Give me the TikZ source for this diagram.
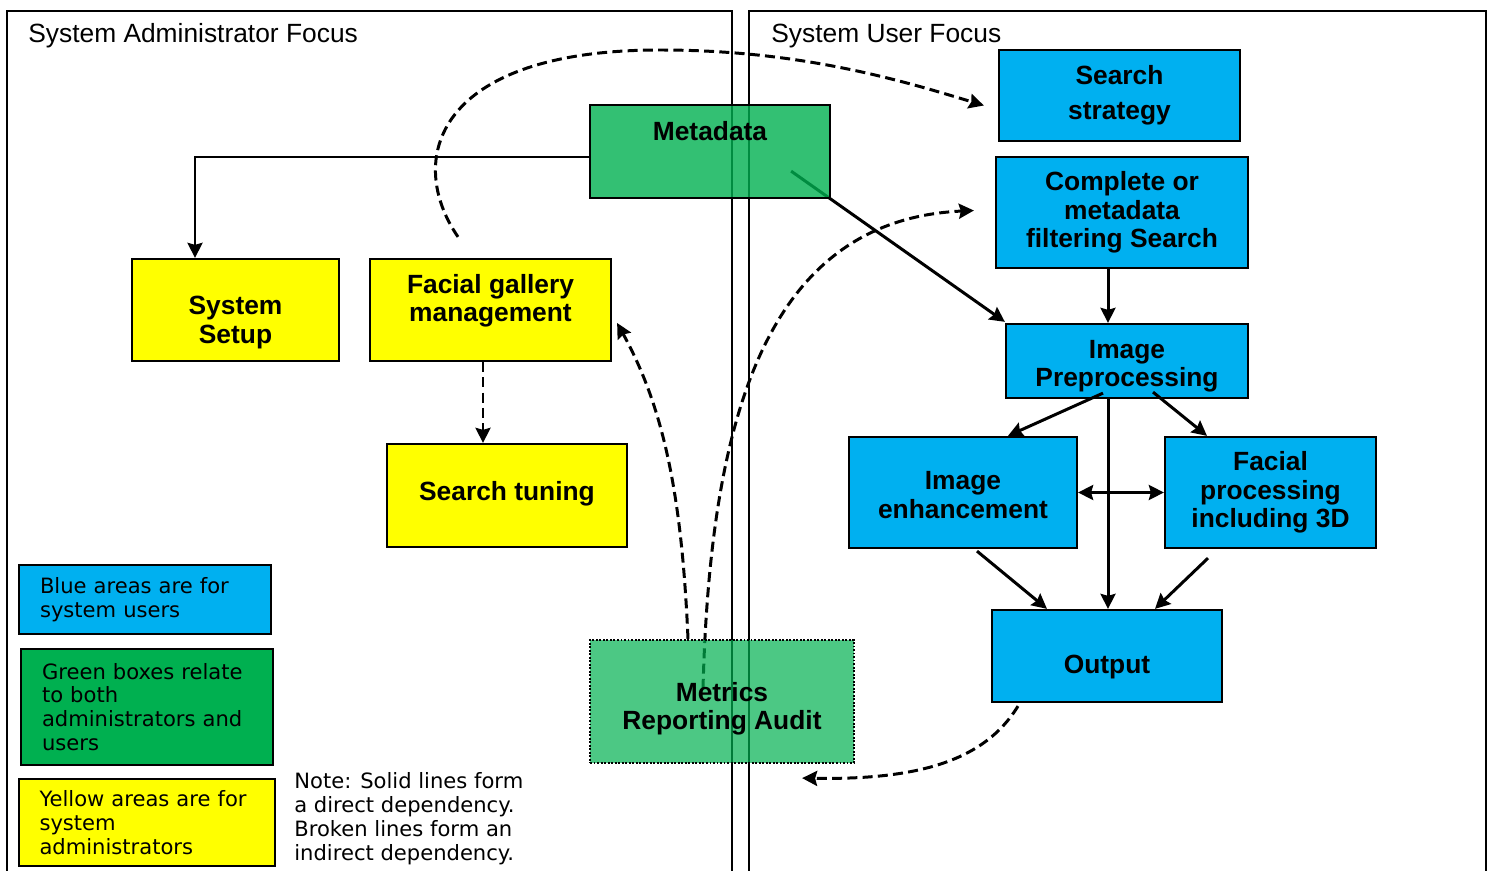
\documentclass[tikz,border=0pt]{standalone}
\usepackage{fontspec}
\setmainfont{Liberation Sans}
\newfontfamily\legendfont{DejaVu Sans}
\usetikzlibrary{arrows.meta,calc,backgrounds}
\definecolor{userblue}{HTML}{00B0F0}
\definecolor{adminyellow}{HTML}{FFFF00}
\definecolor{bothgreen}{HTML}{00B050}
\tikzset{
  >={Stealth[length=0.3cm,width=0.3cm,inset=0.04cm]},
  box/.style={draw,line width=1.3pt,align=center,inner sep=0pt,font=\bfseries\fontsize{15}{16.2}\selectfont},
  userbox/.style={box,fill=userblue},
  adminbox/.style={box,fill=adminyellow},
  bothbox/.style={box,fill=bothgreen,fill opacity=0.8,text opacity=1},
  boxtext/.style={align=center,inner sep=0pt,font=\bfseries\fontsize{15}{16.2}\selectfont},
  legend/.style={draw,line width=1.3pt,align=left,inner xsep=0.42cm,text width=4.2cm,font=\legendfont\fontsize{12}{13.6}\selectfont},
  panel/.style={line width=1.1pt},
  paneltitle/.style={anchor=west,inner sep=0pt,font=\fontsize{15}{18}\selectfont},
  link/.style={line width=1.7pt,->},
  hint/.style={link,dash pattern=on 5.7pt off 3pt},
}
\begin{document}
\begin{tikzpicture}[x=0.02cm,y=-0.02cm]
\useasboundingbox (0,0) rectangle (1492,871);
\node[paneltitle] (admintitle) at (28,36) {System Administrator Focus};
\node[paneltitle] (usertitle) at (771,36) {System User Focus};
% user side
\node[userbox,minimum width=4.82cm,minimum height=1.82cm] (strategy) at (1119.5,95.5) {Search\\[3.7pt]strategy};
\node[userbox,minimum width=5.04cm,minimum height=2.22cm] (complete) at (1122,212.5) {Complete or\\metadata\\filtering Search};
\node[userbox,minimum width=4.84cm,minimum height=1.48cm] (prep) at (1127,361) {};
\node[boxtext] (preptext) at ($(prep.center)+(0,5)$) {Image\\Preprocessing};
\node[userbox,minimum width=4.56cm,minimum height=2.22cm] (enhance) at (963,492.5) {};
\node[boxtext] (enhancetext) at ($(enhance.center)+(0,2.5)$) {Image\\enhancement};
\node[userbox,minimum width=4.22cm,minimum height=2.22cm] (facial) at (1270.5,492.5) {Facial\\processing\\including 3D};
\node[userbox,minimum width=4.6cm,minimum height=1.84cm] (output) at (1107,656) {};
\node[boxtext] (outputtext) at ($(output.center)+(0,11)$) {Output};
% admin side
\node[adminbox,minimum width=4.14cm,minimum height=2.04cm] (setup) at (235.5,310) {};
\node[boxtext] (setuptext) at ($(setup.center)+(0,12.5)$) {System\\Setup};
\node[adminbox,minimum width=4.82cm,minimum height=2.04cm] (gallery) at (490.5,310) {};
\node[boxtext] (gallerytext) at ($(gallery.center)+(0,-9)$) {Facial gallery\\management};
\node[adminbox,minimum width=4.8cm,minimum height=2.06cm] (tuning) at (507,495.5) {};
\node[boxtext] (tuningtext) at ($(tuning.center)+(0,-2)$) {Search tuning};
% shared
\node[bothbox,minimum width=4.8cm,minimum height=1.86cm] (meta) at (710,151.5) {};
\node[boxtext] (metatext) at ($(meta.center)+(0,-20.5)$) {Metadata};
\node[bothbox,fill opacity=0.7,dash pattern=on 1.1pt off 0.9pt,minimum width=5.28cm,minimum height=2.46cm] (metrics) at (722,701.5) {};
\node[boxtext] (metricstext) at ($(metrics.center)+(0,7)$) {Metrics\\Reporting Audit};
% legend
\node[legend,fill=userblue,minimum height=1.38cm] (legusers) at (145,599.5) {Blue areas are for\\system users};
\node[legend,fill=bothgreen,minimum height=2.32cm] (legboth) at (147,707) {Green boxes relate\\to both\\administrators and\\users};
\node[legend,fill=adminyellow,inner xsep=0.41cm,text width=4.3cm,minimum height=1.74cm] (legadmins) at (147,822.5) {Yellow areas are for\\system\\administrators};
\node[anchor=north west,inner sep=0pt,align=left,font=\legendfont\fontsize{12}{13.6}\selectfont] (note) at (294,772) {Note: Solid lines form\\a direct dependency.\\Broken lines form an\\indirect dependency.};
\begin{scope}[on background layer]
\draw[panel] (7,880) |- (732,11) -- (732,880);
\draw[panel] (749,880) |- (1486,11) -- (1486,880);
\draw[link] ($(meta.south east)+(-40,-28)$) -- ($(prep.north west)+(0,-1)$);
\draw[hint] ($(metrics.north)+(-19,50)$) .. controls (710,420) and (765,220) .. ($(complete.west)+(-21,-2)$);
\end{scope}
\coordinate (spine) at ($(complete.south)+(-14,0)$);
\draw[link] ($(meta.west)+(0,5.5)$) -| ($(setup.north)+(-40.5,0)$);
\draw[link] (spine) -- (spine |- prep.north);
\draw[link] (spine |- prep.south) -- (spine |- output.north);
\draw[link] ($(prep.south)+(-24,-6)$) -- ($(enhance.north)+(45,0)$);
\draw[link] ($(prep.south)+(26,-7)$) -- ($(facial.north)+(-63.5,0)$);
\draw[link,<->] (enhance.east) -- (facial.west);
\draw[link] ($(enhance.south)+(14,2)$) -- ($(output.north)+(-60,0)$);
\draw[link] ($(facial.south)+(-62.5,9)$) -- ($(output.north)+(48,0)$);
\draw[hint] ($(gallery.south)+(-7.5,0)$) -- ($(tuning.north)+(-24,0)$);
\draw[hint] ($(gallery.north)+(-32.5,-21)$) .. controls (405,160) and (435,50) .. (660,50) .. controls (800,50) and (900,80) .. ($(strategy.west)+(-14,10)$);
\draw[hint] ($(metrics.north)+(-34,0)$) .. controls (682,500) and (665,410) .. ($(gallery.east)+(5,13)$);
\draw[hint] ($(output.south)+(-89,3)$) .. controls (985,760) and (920,780) .. ($(metrics.south east)+(-53,14)$);
\end{tikzpicture}
\end{document}
